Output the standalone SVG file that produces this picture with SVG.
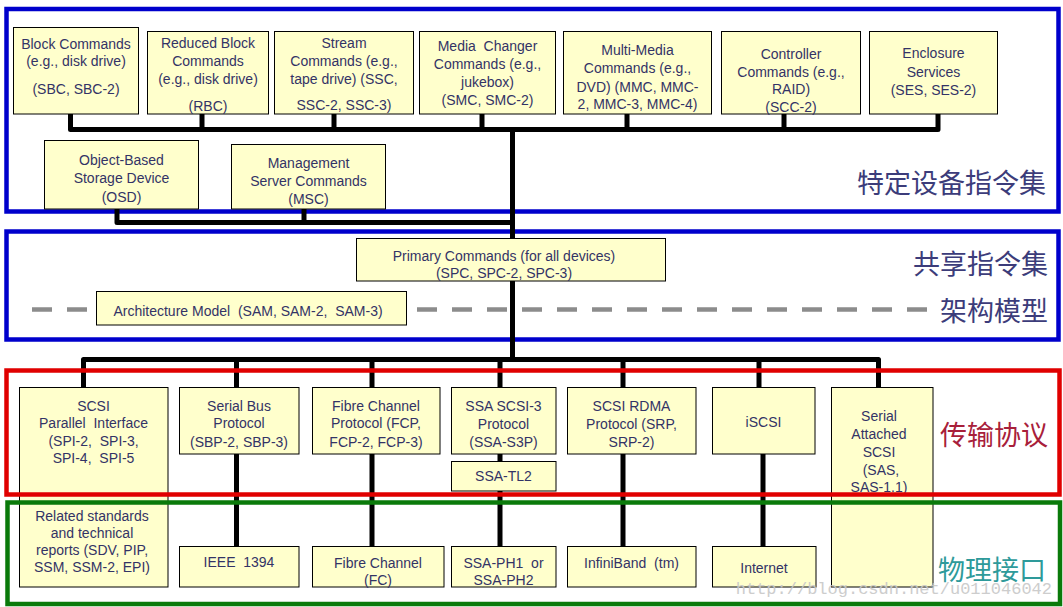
<svg xmlns="http://www.w3.org/2000/svg" width="1063" height="607" viewBox="0 0 1063 607">
<style>
.bx{fill:#FFFFCC;stroke:#000;stroke-width:1}
.t{font-family:"Liberation Sans",Arial,sans-serif;font-size:14px;fill:#333366;text-anchor:middle;white-space:pre}
.cn{font-family:"Noto Sans CJK SC",sans-serif;font-size:27px;text-anchor:end}
.fr{fill:none;stroke-width:4.5}
.c{fill:none;stroke:#000;stroke-width:5;stroke-linejoin:round}
.dash{fill:none;stroke:#8C8C8C;stroke-width:4.5;stroke-dasharray:20 15}
</style>
<rect width="1063" height="607" fill="#fff"/>
<g id="frames-blue">
<rect class="fr" x="6.5" y="9" width="1052" height="202.5" stroke="#0000CC"/>
<rect class="fr" x="6.5" y="231.5" width="1052" height="108" stroke="#0000CC"/>
</g>
<g id="dashes">
<path class="dash" d="M32 309.5H88"/>
<path class="dash" d="M417 309.5H927"/>
</g>
<g id="connectors">
<path class="c" d="M70.5 114V129.5H938V114"/>
<path class="c" d="M202 114V129.5M334 114V129.5M482 114V129.5M627 114V129.5M784 114V129.5"/>
<path class="c" d="M512.5 129.5V359.5"/>
<path class="c" d="M117 209V222.5H512.5M304 209V222.5"/>
<path class="c" d="M83.5 387V359.5H878.5V387"/>
<path class="c" d="M236.5 359.5V387M372 359.5V387M500 359.5V387M623 359.5V387M759 359.5V387"/>
<path class="c" d="M236.5 454V546M372 454V546M500 454V461M500 491V546M623 454V546M763 454V546"/>
</g>
<g id="n-sbc"><rect class="bx" x="13.5" y="27.5" width="125" height="86.5"/>
<text class="t" x="76" y="49">Block Commands</text><text class="t" x="76" y="66">(e.g., disk drive)</text><text class="t" x="76" y="94">(SBC, SBC-2)</text></g>
<g id="n-rbc"><rect class="bx" x="147.5" y="31.5" width="121" height="82.5"/>
<text class="t" x="208" y="48">Reduced Block</text><text class="t" x="208" y="66">Commands</text><text class="t" x="208" y="84">(e.g., disk drive)</text><text class="t" x="208" y="111">(RBC)</text></g>
<g id="n-ssc"><rect class="bx" x="274.5" y="31.5" width="139" height="82.5"/>
<text class="t" x="344" y="48">Stream</text><text class="t" x="344" y="66">Commands (e.g.,</text><text class="t" x="344" y="84">tape drive) (SSC,</text><text class="t" x="344" y="110">SSC-2, SSC-3)</text></g>
<g id="n-smc"><rect class="bx" x="419.5" y="31.5" width="136" height="82.5"/>
<text class="t" x="487.5" y="51">Media  Changer</text><text class="t" x="487.5" y="69">Commands (e.g.,</text><text class="t" x="487.5" y="87">jukebox)</text><text class="t" x="487.5" y="105">(SMC, SMC-2)</text></g>
<g id="n-mmc"><rect class="bx" x="563.5" y="31.5" width="148" height="82.5"/>
<text class="t" x="637.5" y="55">Multi-Media</text><text class="t" x="637.5" y="73">Commands (e.g.,</text><text class="t" x="637.5" y="92">DVD) (MMC, MMC-</text><text class="t" x="637.5" y="109">2, MMC-3, MMC-4)</text></g>
<g id="n-scc"><rect class="bx" x="721.5" y="31.5" width="139" height="82.5"/>
<text class="t" x="791" y="59">Controller</text><text class="t" x="791" y="77">Commands (e.g.,</text><text class="t" x="791" y="94">RAID)</text><text class="t" x="791" y="112">(SCC-2)</text></g>
<g id="n-ses"><rect class="bx" x="869.5" y="31.5" width="128" height="82.5"/>
<text class="t" x="933.5" y="58">Enclosure</text><text class="t" x="933.5" y="77">Services</text><text class="t" x="933.5" y="95">(SES, SES-2)</text></g>
<g id="n-osd"><rect class="bx" x="44.5" y="140.5" width="154" height="68.5"/>
<text class="t" x="121.5" y="165">Object-Based</text><text class="t" x="121.5" y="183">Storage Device</text><text class="t" x="121.5" y="202">(OSD)</text></g>
<g id="n-msc"><rect class="bx" x="231.5" y="144.5" width="154" height="64.5"/>
<text class="t" x="308.5" y="168">Management</text><text class="t" x="308.5" y="186">Server Commands</text><text class="t" x="308.5" y="204">(MSC)</text></g>
<g id="n-spc"><rect class="bx" x="356.5" y="238.5" width="309" height="42.5"/>
<text class="t" x="504" y="261">Primary Commands (for all devices)</text><text class="t" x="504" y="278">(SPC, SPC-2, SPC-3)</text></g>
<g id="n-sam"><rect class="bx" x="96.5" y="291.5" width="310" height="33.5"/>
<text class="t" x="248" y="316">Architecture Model  (SAM, SAM-2,  SAM-3)</text></g>
<g id="n-spi"><rect class="bx" x="19.5" y="387.5" width="148.5" height="199.5"/>
<text class="t" x="93.5" y="411">SCSI</text><text class="t" x="93.5" y="428">Parallel  Interface</text><text class="t" x="93.5" y="446">(SPI-2,  SPI-3,</text><text class="t" x="93.5" y="463">SPI-4,  SPI-5</text>
<text class="t" x="92" y="521">Related standards</text><text class="t" x="92" y="538">and technical</text><text class="t" x="92" y="555">reports (SDV, PIP,</text><text class="t" x="92" y="572">SSM, SSM-2, EPI)</text></g>
<g id="n-sbp"><rect class="bx" x="179.5" y="387.5" width="119.5" height="66.5"/>
<text class="t" x="239" y="411">Serial Bus</text><text class="t" x="239" y="428">Protocol</text><text class="t" x="239" y="447">(SBP-2, SBP-3)</text></g>
<g id="n-fcp"><rect class="bx" x="312.5" y="387.5" width="127.5" height="66.5"/>
<text class="t" x="376" y="411">Fibre Channel</text><text class="t" x="376" y="428">Protocol (FCP,</text><text class="t" x="376" y="447">FCP-2, FCP-3)</text></g>
<g id="n-s3p"><rect class="bx" x="451.5" y="387.5" width="104.5" height="66.5"/>
<text class="t" x="503.5" y="411">SSA SCSI-3</text><text class="t" x="503.5" y="429">Protocol</text><text class="t" x="503.5" y="447">(SSA-S3P)</text></g>
<g id="n-tl2"><rect class="bx" x="451.5" y="461.5" width="104.5" height="29.5"/>
<text class="t" x="503.5" y="481">SSA-TL2</text></g>
<g id="n-srp"><rect class="bx" x="567.5" y="387.5" width="128.5" height="66.5"/>
<text class="t" x="631.5" y="411">SCSI RDMA</text><text class="t" x="631.5" y="429">Protocol (SRP,</text><text class="t" x="631.5" y="447">SRP-2)</text></g>
<g id="n-iscsi"><rect class="bx" x="712.5" y="387.5" width="102.5" height="66.5"/>
<text class="t" x="763.5" y="427">iSCSI</text></g>
<g id="n-sas"><rect class="bx" x="831.5" y="387.5" width="101.5" height="199.5"/>
<text class="t" x="879" y="421">Serial</text><text class="t" x="879" y="439">Attached</text><text class="t" x="879" y="457">SCSI</text><text class="t" x="879" y="475"> (SAS,</text><text class="t" x="879" y="492">SAS-1.1)</text></g>
<g id="n-1394"><rect class="bx" x="179.5" y="546.5" width="119.5" height="40.5"/>
<text class="t" x="239" y="567">IEEE  1394</text></g>
<g id="n-fc"><rect class="bx" x="312.5" y="546.5" width="131.5" height="40.5"/>
<text class="t" x="378" y="568">Fibre Channel</text><text class="t" x="378" y="585">(FC)</text></g>
<g id="n-ph"><rect class="bx" x="451.5" y="546.5" width="104.5" height="40.5"/>
<text class="t" x="503.5" y="568">SSA-PH1  or</text><text class="t" x="503.5" y="585">SSA-PH2</text></g>
<g id="n-ib"><rect class="bx" x="567.5" y="546.5" width="128.5" height="40.5"/>
<text class="t" x="631.5" y="568">InfiniBand  (tm)</text></g>
<g id="n-inet"><rect class="bx" x="712.5" y="546.5" width="103.5" height="40.5"/>
<text class="t" x="764" y="573">Internet</text></g>
<g id="frames-rg">
<rect class="fr" x="6.5" y="370.5" width="1053" height="124" stroke="#E00000"/>
<rect class="fr" x="7.5" y="502.5" width="1052.5" height="101.5" stroke="#0A7A0A"/>
</g>
<g id="labels">
<text class="cn" x="1046" y="193" fill="#3C3C7A">特定设备指令集</text>
<text class="cn" x="1048" y="274" fill="#3C3C7A">共享指令集</text>
<text class="cn" x="1048" y="321" fill="#3C3C7A">架构模型</text>
<text class="cn" x="1048" y="445" fill="#A8203A">传输协议</text>
<text class="cn" x="1046" y="580" fill="#2E9A9A">物理接口</text>
</g>
<text x="1052" y="594" font-family="Liberation Mono,monospace" font-size="17" fill="#C8C8C8" text-anchor="end" opacity="0.9">http://blog.csdn.net/u011046042</text>
</svg>
